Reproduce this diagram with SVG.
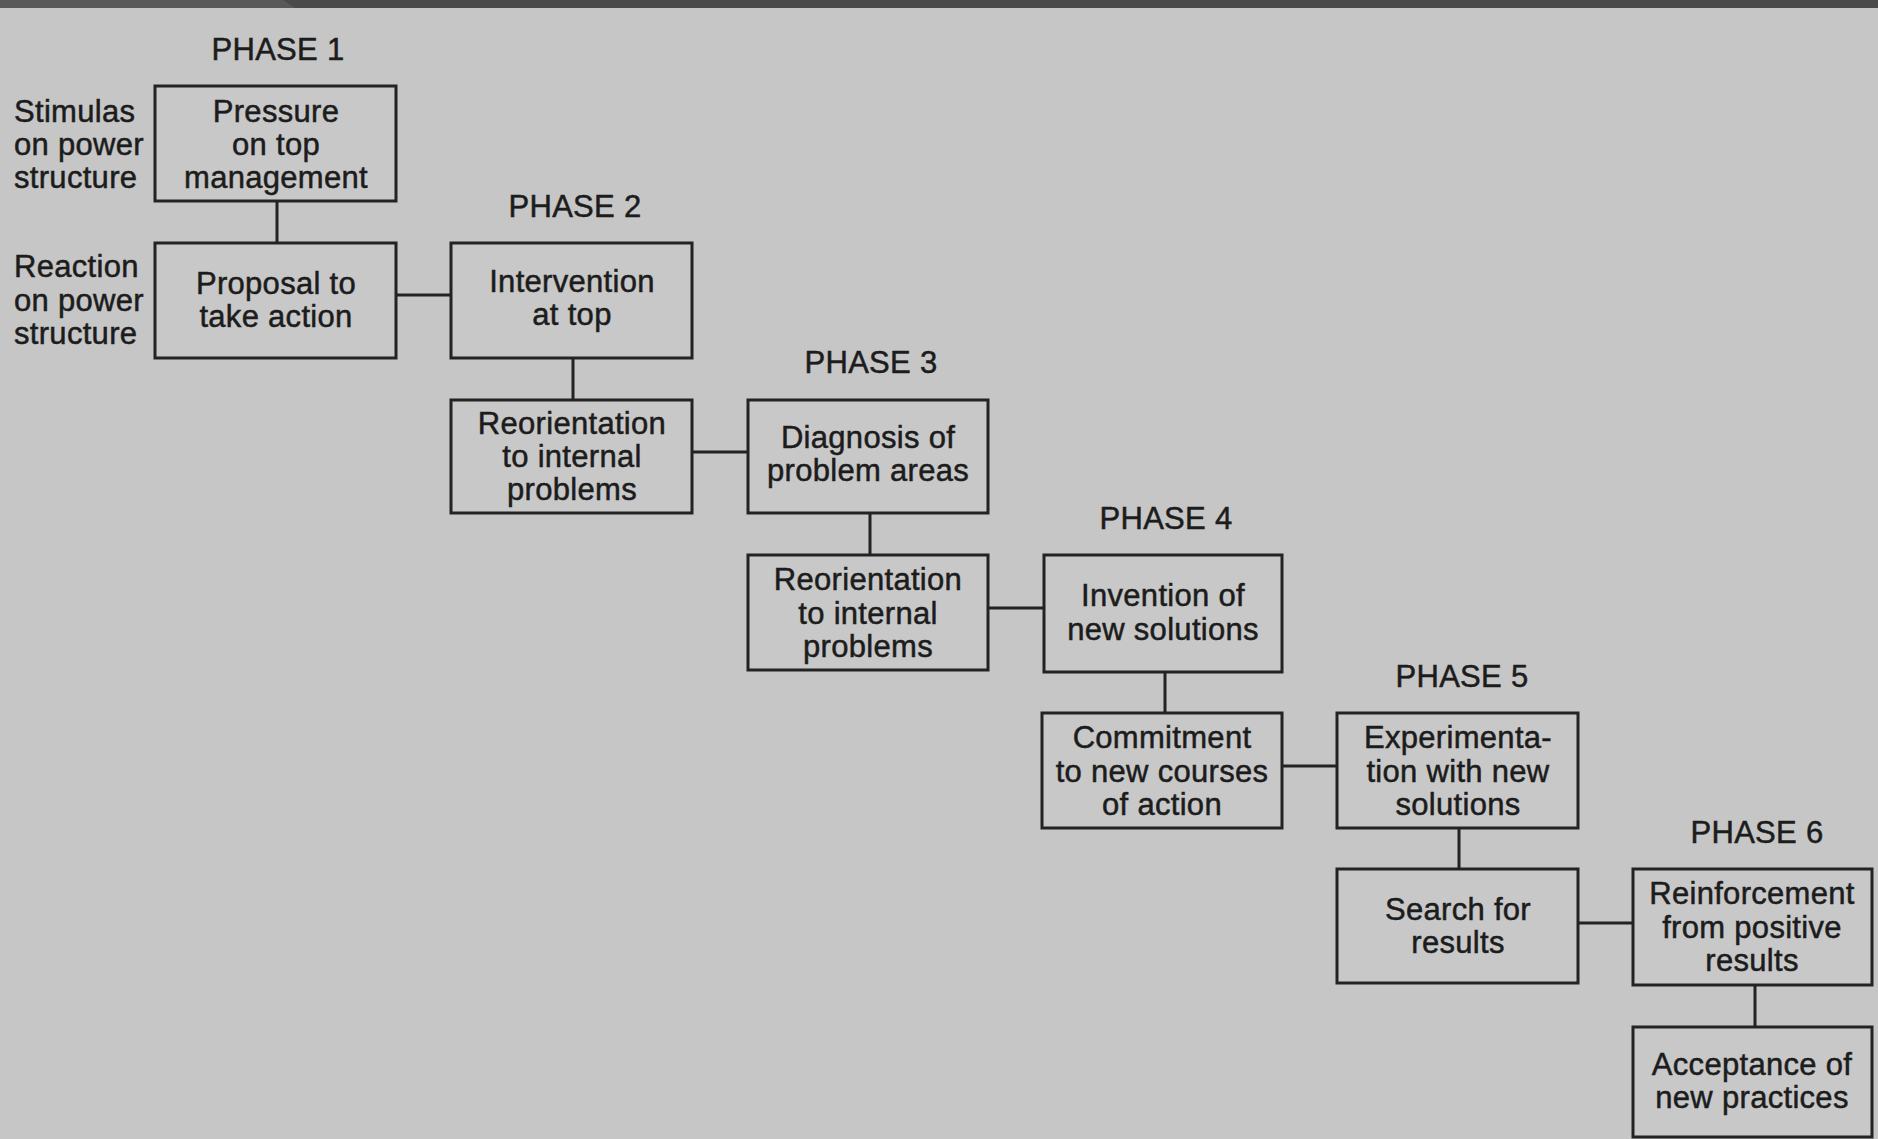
<svg xmlns="http://www.w3.org/2000/svg" width="1878" height="1139" viewBox="0 0 1878 1139">
<style>
.bg{fill:#c6c6c6}
.box{fill:#c8c8c8;stroke:#232323;stroke-width:3}
.con{stroke:#232323;stroke-width:3;fill:none}
text{font-family:"Liberation Sans",Arial,Helvetica,sans-serif;font-size:31px;fill:#1c1c1c;stroke:#1c1c1c;stroke-width:0.5px;letter-spacing:0.3px}
.c{text-anchor:middle}
</style>
<rect class="bg" x="0" y="0" width="1878" height="1139"/>
<rect x="0" y="0" width="1878" height="8" fill="#4a4a4a"/>
<polygon points="0,0 283,0 295,8 0,8" fill="#595959"/>

<g id="phase-labels">
<text class="c" x="278" y="60">PHASE 1</text>
<text class="c" x="575" y="217">PHASE 2</text>
<text class="c" x="871" y="373">PHASE 3</text>
<text class="c" x="1166" y="529">PHASE 4</text>
<text class="c" x="1462" y="687">PHASE 5</text>
<text class="c" x="1757" y="843">PHASE 6</text>
</g>

<g id="side-labels">
<text x="14" y="122">Stimulas</text>
<text x="14" y="155">on power</text>
<text x="14" y="188">structure</text>
<text x="14" y="277">Reaction</text>
<text x="14" y="311">on power</text>
<text x="14" y="344">structure</text>
</g>

<g id="connectors">
<line class="con" x1="277" y1="201" x2="277" y2="243"/>
<line class="con" x1="396" y1="295" x2="451" y2="295"/>
<line class="con" x1="573" y1="358" x2="573" y2="400"/>
<line class="con" x1="692" y1="452" x2="748" y2="452"/>
<line class="con" x1="870" y1="513" x2="870" y2="555"/>
<line class="con" x1="988" y1="608" x2="1043" y2="608"/>
<line class="con" x1="1165" y1="672" x2="1165" y2="713"/>
<line class="con" x1="1282" y1="766" x2="1337" y2="766"/>
<line class="con" x1="1459" y1="828" x2="1459" y2="869"/>
<line class="con" x1="1578" y1="923" x2="1633" y2="923"/>
<line class="con" x1="1755" y1="985" x2="1755" y2="1027"/>
</g>

<g id="n1">
<rect class="box" x="155" y="86" width="241" height="115"/>
<text class="c" x="276" y="122">Pressure</text>
<text class="c" x="276" y="155">on top</text>
<text class="c" x="276" y="188">management</text>
</g>
<g id="n2">
<rect class="box" x="155" y="243" width="241" height="115"/>
<text class="c" x="276" y="294">Proposal to</text>
<text class="c" x="276" y="327">take action</text>
</g>
<g id="n3">
<rect class="box" x="451" y="243" width="241" height="115"/>
<text class="c" x="572" y="292">Intervention</text>
<text class="c" x="572" y="325">at top</text>
</g>
<g id="n4">
<rect class="box" x="451" y="400" width="241" height="113"/>
<text class="c" x="572" y="434">Reorientation</text>
<text class="c" x="572" y="467">to internal</text>
<text class="c" x="572" y="500">problems</text>
</g>
<g id="n5">
<rect class="box" x="748" y="400" width="240" height="113"/>
<text class="c" x="868" y="448">Diagnosis of</text>
<text class="c" x="868" y="481">problem areas</text>
</g>
<g id="n6">
<rect class="box" x="748" y="555" width="240" height="115"/>
<text class="c" x="868" y="590">Reorientation</text>
<text class="c" x="868" y="624">to internal</text>
<text class="c" x="868" y="657">problems</text>
</g>
<g id="n7">
<rect class="box" x="1044" y="555" width="238" height="117"/>
<text class="c" x="1163" y="606">Invention of</text>
<text class="c" x="1163" y="640">new solutions</text>
</g>
<g id="n8">
<rect class="box" x="1042" y="713" width="240" height="115"/>
<text class="c" x="1162" y="748">Commitment</text>
<text class="c" x="1162" y="782">to new courses</text>
<text class="c" x="1162" y="815">of action</text>
</g>
<g id="n9">
<rect class="box" x="1337" y="713" width="241" height="115"/>
<text class="c" x="1458" y="748">Experimenta-</text>
<text class="c" x="1458" y="782">tion with new</text>
<text class="c" x="1458" y="815">solutions</text>
</g>
<g id="n10">
<rect class="box" x="1337" y="869" width="241" height="114"/>
<text class="c" x="1458" y="920">Search for</text>
<text class="c" x="1458" y="953">results</text>
</g>
<g id="n11">
<rect class="box" x="1633" y="869" width="239" height="116"/>
<text class="c" x="1752" y="904">Reinforcement</text>
<text class="c" x="1752" y="938">from positive</text>
<text class="c" x="1752" y="971">results</text>
</g>
<g id="n12">
<rect class="box" x="1633" y="1027" width="239" height="110"/>
<text class="c" x="1752" y="1075">Acceptance of</text>
<text class="c" x="1752" y="1108">new practices</text>
</g>
</svg>
